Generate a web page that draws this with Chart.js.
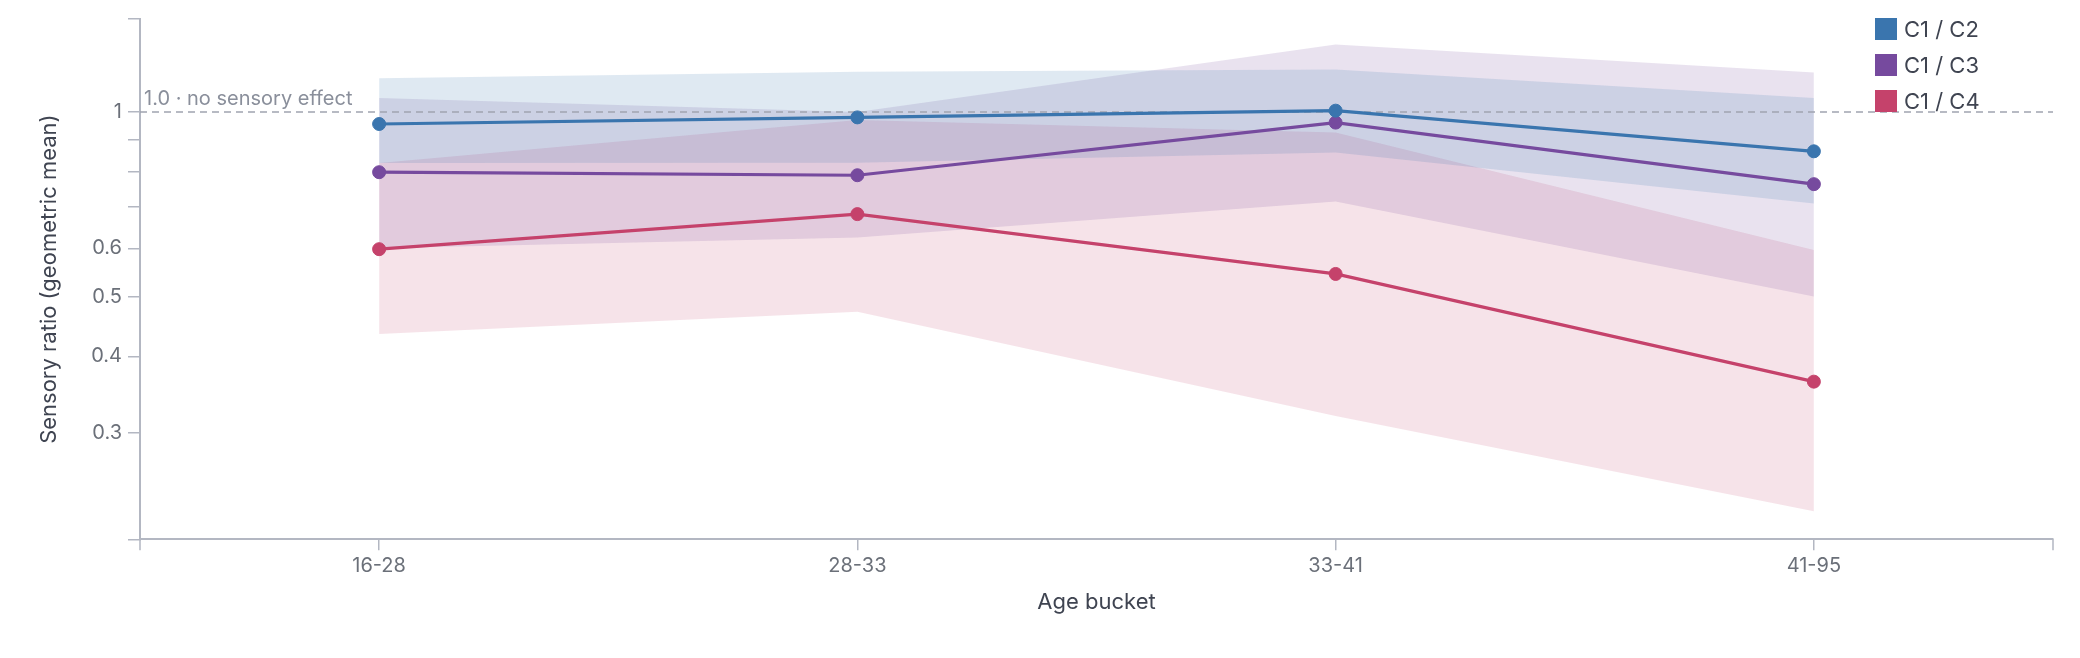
<!DOCTYPE html>
<html>
<head>
<meta charset="utf-8">
<script src="https://cdn.jsdelivr.net/npm/chart.js@4.4.1/dist/chart.umd.min.js"></script>
<style>
  html, body { margin: 0; padding: 0; background: #ffffff; }
  #wrap { width: 2080px; height: 658px; position: relative; }
  canvas { display: block; }
</style>
</head>
<body>
<div id="wrap"><canvas id="c" width="2080" height="658"></canvas></div>
<script>
// ---- data ----
const categories = ['16-28', '28-33', '33-41', '41-95'];
const seriesNames = ['C1 / C2', 'C1 / C3', 'C1 / C4'];

const c2Mean  = [0.956, 0.980, 1.005, 0.863];
const c2Lower = [0.826, 0.827, 0.859, 0.710];
const c2Upper = [1.135, 1.163, 1.173, 1.054];

const c3Mean  = [0.798, 0.789, 0.961, 0.763];
const c3Lower = [0.600, 0.625, 0.715, 0.501];
const c3Upper = [1.054, 1.000, 1.288, 1.160];

const c4Mean  = [0.598, 0.682, 0.545, 0.364];
const c4Lower = [0.435, 0.473, 0.320, 0.224];
const c4Upper = [0.826, 0.970, 0.926, 0.596];

const yLabelTicks = [0.3, 0.4, 0.5, 0.6, 1];
const yMin = 0.2016;
const yMax = 1.417;
const refValue = 1;
const refLabel = '1.0 · no sensory effect';

// ---- styles ----
const colors = ['#3a75ae', '#764a9e', '#c5426b'];
const bandColors = ['rgba(58,117,174,0.16)', 'rgba(118,74,158,0.16)', 'rgba(197,66,107,0.15)'];
const axisColor = '#b3b7c2';
const FONT = 'Inter';

function lineDs(label, data, i) {
  return {
    label, data, borderColor: colors[i], backgroundColor: colors[i],
    borderWidth: 3.2, pointRadius: 6.5, pointBorderWidth: 1,
    pointBackgroundColor: colors[i], pointBorderColor: colors[i],
    tension: 0, fill: false
  };
}
function bandDs(label, data, i, fill) {
  return {
    label, data, borderWidth: 0, borderColor: 'rgba(0,0,0,0)',
    backgroundColor: bandColors[i], pointRadius: 0, tension: 0, fill
  };
}

const refLinePlugin = {
  id: 'refLine',
  beforeDatasetDraw(chart, args) {
    if (args.index !== 2) return;
    const { ctx, chartArea: a, scales: { y } } = chart;
    const py = y.getPixelForValue(refValue);
    ctx.save();
    ctx.beginPath();
    ctx.setLineDash([7, 5]);
    ctx.lineWidth = 1.6;
    ctx.strokeStyle = '#a0a4b0';
    ctx.moveTo(a.left, py);
    ctx.lineTo(a.right, py);
    ctx.stroke();
    ctx.setLineDash([]);
    ctx.font = '20px ' + FONT;
    ctx.fillStyle = '#8a8f9b';
    ctx.textAlign = 'left';
    ctx.textBaseline = 'alphabetic';
    ctx.fillText(refLabel, a.left + 4, py - 7);
    ctx.restore();
  }
};

const edgeTickPlugin = {
  id: 'edgeTicks',
  afterDraw(chart) {
    const { ctx, chartArea: a } = chart;
    ctx.save();
    ctx.strokeStyle = axisColor;
    ctx.lineWidth = 1.5;
    ctx.beginPath();
    ctx.moveTo(a.left, a.bottom); ctx.lineTo(a.left, a.bottom + 11);
    ctx.moveTo(a.right, a.bottom); ctx.lineTo(a.right, a.bottom + 11);
    ctx.stroke();
    ctx.restore();
  }
};

const legendPlugin = {
  id: 'cornerLegend',
  afterDraw(chart) {
    const { ctx, chartArea: a } = chart;
    const x0 = a.right - 178;
    ctx.save();
    for (let i = 0; i < 3; i++) {
      const ds = chart.data.datasets[i];
      const y = 18 + i * 36;
      ctx.fillStyle = ds.borderColor;
      ctx.fillRect(x0, y, 22, 22);
      ctx.fillStyle = '#3f4451';
      ctx.font = '22px ' + FONT;
      ctx.textAlign = 'left';
      ctx.textBaseline = 'middle';
      ctx.fillText(ds.label, x0 + 29, y + 12);
    }
    ctx.restore();
  }
};

new Chart(document.getElementById('c'), {
  type: 'line',
  data: {
    labels: categories,
    datasets: [
      lineDs(seriesNames[0], c2Mean, 0),
      lineDs(seriesNames[1], c3Mean, 1),
      lineDs(seriesNames[2], c4Mean, 2),
      bandDs(seriesNames[0] + ' upper', c2Upper, 0, '+1'),
      bandDs(seriesNames[0] + ' lower', c2Lower, 0, false),
      bandDs(seriesNames[1] + ' upper', c3Upper, 1, '+1'),
      bandDs(seriesNames[1] + ' lower', c3Lower, 1, false),
      bandDs(seriesNames[2] + ' upper', c4Upper, 2, '+1'),
      bandDs(seriesNames[2] + ' lower', c4Lower, 2, false)
    ]
  },
  options: {
    responsive: false,
    animation: false,
    devicePixelRatio: 1,
    layout: { padding: { top: 19, right: 27, bottom: 0, left: 0 } },
    plugins: {
      legend: { display: false },
      tooltip: { enabled: false }
    },
    scales: {
      x: {
        type: 'category',
        offset: true,
        border: { display: true, color: axisColor, width: 2 },
        grid: { display: true, drawOnChartArea: false, drawTicks: true, tickLength: 11, color: axisColor, lineWidth: 1.5, offset: false },
        ticks: { padding: 4, color: '#6b7079', font: { family: FONT, size: 20 }, maxRotation: 0 },
        title: { display: true, text: 'Age bucket', color: '#3f4451', font: { family: FONT, size: 22 }, padding: { top: 0, bottom: 42 } },
        afterFit(s) { s.height = 118.7; }
      },
      y: {
        type: 'logarithmic',
        min: yMin,
        max: yMax,
        border: { display: true, color: axisColor, width: 2 },
        grid: { display: true, drawOnChartArea: false, drawTicks: true, tickLength: 12, color: axisColor, lineWidth: 1.5 },
        ticks: {
          autoSkip: false, padding: 6, color: '#6b7079', font: { family: FONT, size: 20 },
          callback(v) {
            const t = yLabelTicks.find(k => Math.abs(k - v) < 1e-9);
            return t === undefined ? '' : String(t);
          }
        },
        title: { display: true, text: 'Sensory ratio (geometric mean)', color: '#3f4451', font: { family: FONT, size: 22 }, padding: { top: 36, bottom: 0 } },
        afterFit(s) { s.width = 140; }
      }
    }
  },
  plugins: [refLinePlugin, edgeTickPlugin, legendPlugin]
});
</script>
</body>
</html>
